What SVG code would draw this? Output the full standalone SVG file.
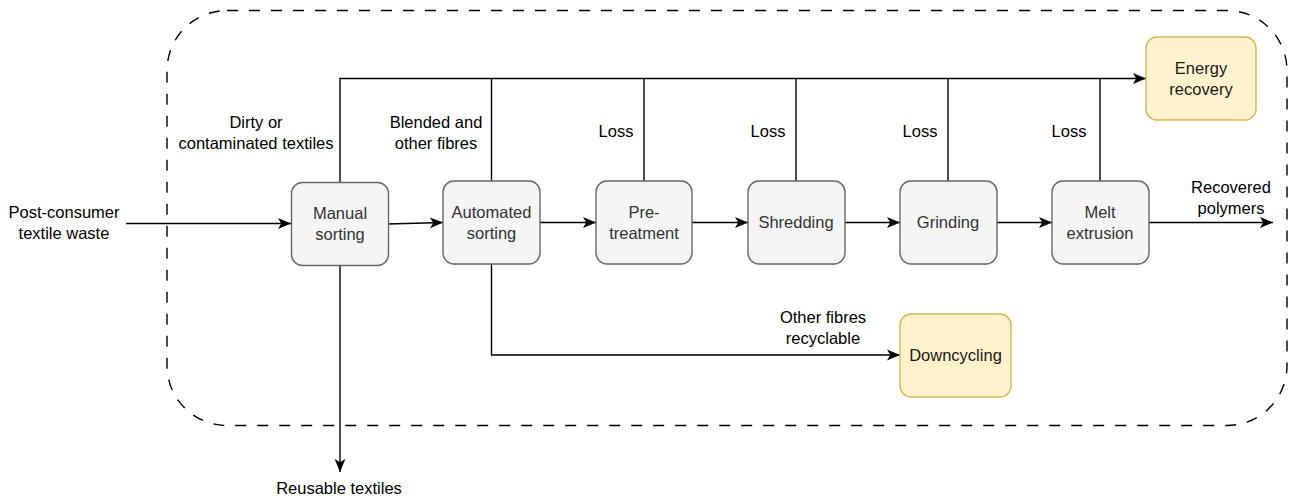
<svg xmlns="http://www.w3.org/2000/svg" width="1293" height="499" viewBox="0 0 1293 499">
  <style>
    .lbl { font-family: "Liberation Sans", Arial, sans-serif; font-size: 16.5px; fill: #000; text-anchor: middle; }
    .nlbl { font-family: "Liberation Sans", Arial, sans-serif; font-size: 16.5px; fill: #333; text-anchor: middle; }
    .proc { fill: #f5f5f5; stroke: #666; stroke-width: 1.4; }
    .out { fill: #fff2cc; stroke: #d6b656; stroke-width: 1.4; }
    .edge { fill: none; stroke: #000; stroke-width: 1.4; }
  </style>
  <defs>
    <marker id="arrow" markerUnits="userSpaceOnUse" markerWidth="14" markerHeight="12" refX="13" refY="6" orient="auto">
      <path d="M0,0.6 L13,6 L0,11.4 L3.2,6 Z" fill="#000"/>
    </marker>
  </defs>

  <!-- system boundary -->
  <rect id="boundary" x="167" y="10.5" width="1120" height="415" rx="60" ry="60" fill="none" stroke="#000" stroke-width="1.4" stroke-dasharray="11 11"/>

  <!-- connectors -->
  <g id="connectors">
    <path class="edge" d="M126,223.5 L291,223.5" marker-end="url(#arrow)"/>
    <path class="edge" d="M388,224 L443,222.5" marker-end="url(#arrow)"/>
    <path class="edge" d="M540,222.5 L596,222.5" marker-end="url(#arrow)"/>
    <path class="edge" d="M692,222.5 L748,222.5" marker-end="url(#arrow)"/>
    <path class="edge" d="M845,222.5 L900,222.5" marker-end="url(#arrow)"/>
    <path class="edge" d="M997,222.5 L1052,222.5" marker-end="url(#arrow)"/>
    <path class="edge" d="M1149,222.5 L1273,222.5" marker-end="url(#arrow)"/>
    <path class="edge" d="M340,182 L340,78.5 L1146,78.5" marker-end="url(#arrow)"/>
    <path class="edge" d="M491.5,181 L491.5,78.5"/>
    <path class="edge" d="M644,181 L644,78.5"/>
    <path class="edge" d="M796,181 L796,78.5"/>
    <path class="edge" d="M948,181 L948,78.5"/>
    <path class="edge" d="M1100,181 L1100,78.5"/>
    <path class="edge" d="M491.5,264 L491.5,355 L900,355" marker-end="url(#arrow)"/>
    <path class="edge" d="M340,265 L340,472" marker-end="url(#arrow)"/>
  </g>

  <!-- edge labels -->
  <g id="edge-labels">
    <text class="lbl" x="64" y="218">Post-consumer</text>
    <text class="lbl" x="64" y="239">textile waste</text>
    <text class="lbl" x="256" y="128">Dirty or</text>
    <text class="lbl" x="256" y="149">contaminated textiles</text>
    <text class="lbl" x="436" y="128">Blended and</text>
    <text class="lbl" x="436" y="149">other fibres</text>
    <text class="lbl" x="616" y="137">Loss</text>
    <text class="lbl" x="768" y="137">Loss</text>
    <text class="lbl" x="920" y="137">Loss</text>
    <text class="lbl" x="1069" y="137">Loss</text>
    <text class="lbl" x="1231" y="193">Recovered</text>
    <text class="lbl" x="1231" y="214">polymers</text>
    <text class="lbl" x="823" y="323">Other fibres</text>
    <text class="lbl" x="823" y="344">recyclable</text>
    <text class="lbl" x="339" y="494">Reusable textiles</text>
  </g>

  <!-- process nodes -->
  <g id="manual-sorting">
    <rect class="proc" x="291.5" y="182.5" width="97" height="83" rx="11"/>
    <text class="nlbl" x="340" y="219">Manual</text>
    <text class="nlbl" x="340" y="240">sorting</text>
  </g>
  <g id="automated-sorting">
    <rect class="proc" x="443" y="181" width="97" height="83" rx="11"/>
    <text class="nlbl" x="491.5" y="218">Automated</text>
    <text class="nlbl" x="491.5" y="239">sorting</text>
  </g>
  <g id="pre-treatment">
    <rect class="proc" x="596" y="181" width="96" height="83" rx="11"/>
    <text class="nlbl" x="644" y="218">Pre-</text>
    <text class="nlbl" x="644" y="239">treatment</text>
  </g>
  <g id="shredding">
    <rect class="proc" x="748" y="181" width="97" height="83" rx="11"/>
    <text class="nlbl" x="796" y="228">Shredding</text>
  </g>
  <g id="grinding">
    <rect class="proc" x="900" y="181" width="97" height="83" rx="11"/>
    <text class="nlbl" x="948" y="228">Grinding</text>
  </g>
  <g id="melt-extrusion">
    <rect class="proc" x="1052" y="181" width="97" height="83" rx="11"/>
    <text class="nlbl" x="1100" y="218">Melt</text>
    <text class="nlbl" x="1100" y="239">extrusion</text>
  </g>

  <!-- output nodes -->
  <g id="energy-recovery">
    <rect class="out" x="1146" y="37" width="110" height="83" rx="11"/>
    <text class="nlbl" x="1201" y="74" style="fill:#1a1a1a">Energy</text>
    <text class="nlbl" x="1201" y="95" style="fill:#1a1a1a">recovery</text>
  </g>
  <g id="downcycling">
    <rect class="out" x="900" y="314" width="111" height="83" rx="11"/>
    <text class="nlbl" x="955.5" y="361" style="fill:#1a1a1a">Downcycling</text>
  </g>
</svg>
